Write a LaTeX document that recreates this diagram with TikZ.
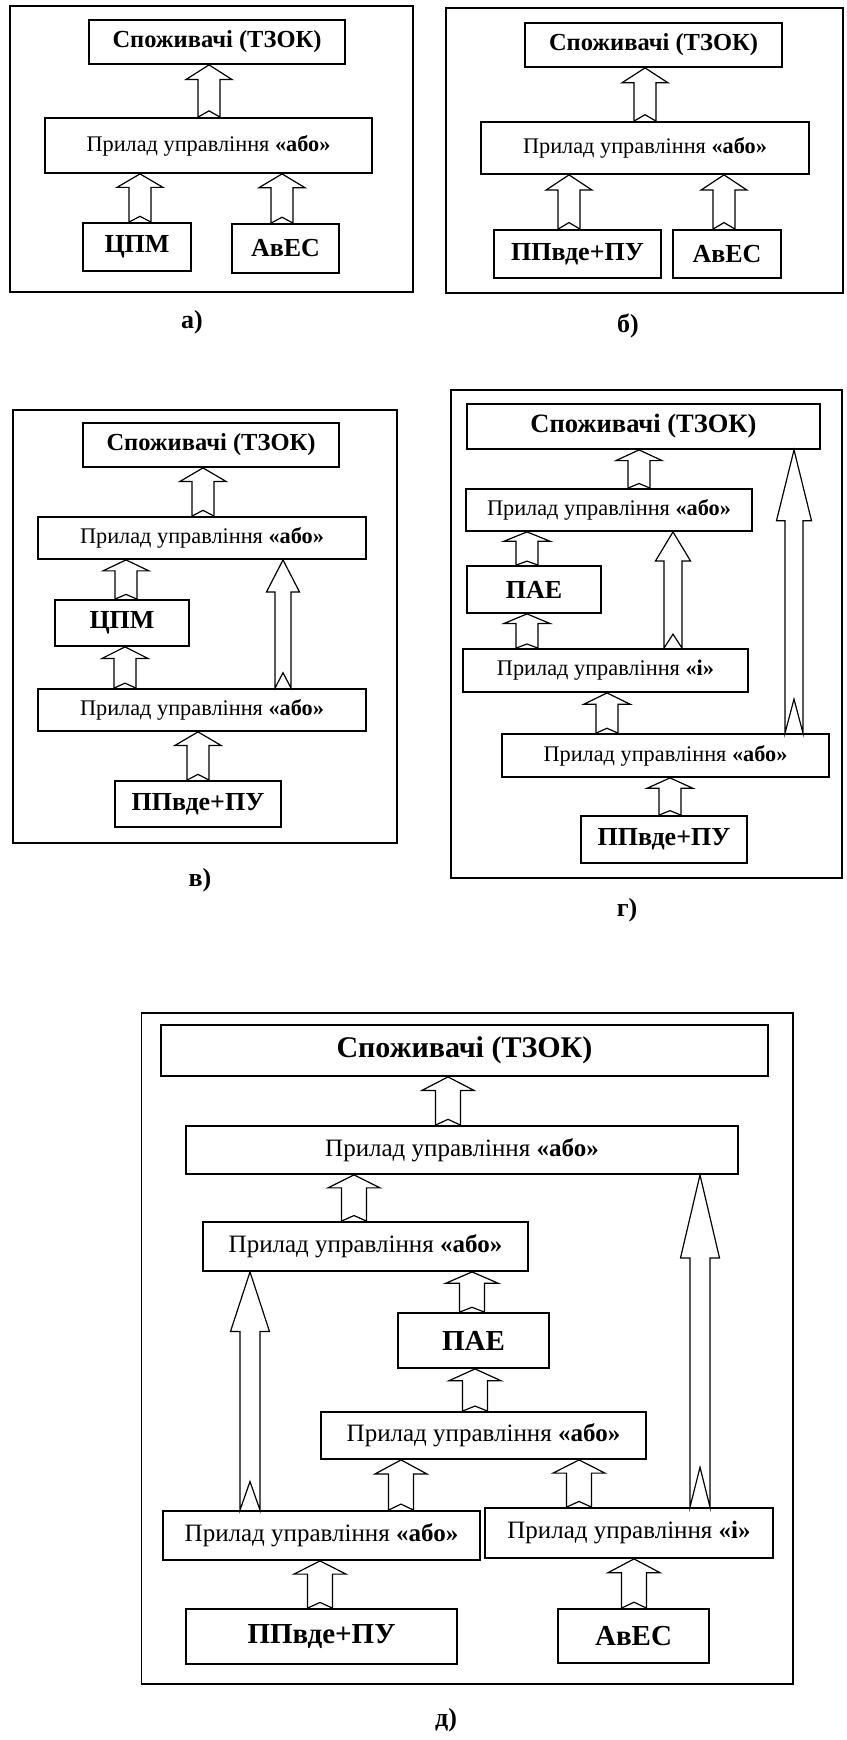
\documentclass[tikz,border=0pt]{standalone}
\usepackage{fontspec}
\IfFontExistsTF{Liberation Serif Bold}
  {\setmainfont{Liberation Serif}[BoldFont={Liberation Serif Bold}]}
  {\setmainfont{Liberation Serif}[BoldFeatures={FakeBold=2}]}
\usetikzlibrary{calc}

% text settings
\newcommand{\cfont}{\fontsize{24.5}{28}\selectfont\bfseries}
\newcommand{\gcfont}{\fontsize{26.5}{30}\selectfont\bfseries}
\newcommand{\pfont}{\fontsize{22.3}{26}\selectfont}
\newcommand{\tfont}{\fontsize{26}{30}\selectfont\bfseries}
\newcommand{\lfont}{\fontsize{26}{30}\selectfont\bfseries}
\newcommand{\dcfont}{\fontsize{30}{34}\selectfont\bfseries}
\newcommand{\dpfont}{\fontsize{25}{29}\selectfont}
\newcommand{\dtfont}{\fontsize{29}{33}\selectfont\bfseries}
\newcommand{\pryl}[1]{Прилад управління \textbf{«#1»}}

\tikzset{
  box/.style 2 args={draw, line width=1.8pt, fill=white, inner sep=0pt,
    align=center, minimum width=#1pt, minimum height=#2pt},
  frame/.style={draw, line width=1.8pt},
  blockarrow/.style={draw, line width=1.2pt, fill=white, line join=miter},
  lbl/.style={inner sep=0pt, font=\lfont},
}

% hollow block arrow pointing up, from the top of #2 to the bottom of #3,
% on the vertical line x=#1; #4 shaft half width, #5 head half width,
% #6 head length as a share of the whole length
\newcommand{\blockup}[6]{%
  \draw[blockarrow] let \p1=(#2.north), \p2=(#3.south),
    \n1={\y2-\y1}, \n2={#6*\n1}, \n3={0.12*\n1} in
    (#1pt-#4pt,\y1) -- (#1pt-#4pt,\y2-\n2) -- (#1pt-#5pt,\y2-\n2) -- (#1pt,\y2)
    -- (#1pt+#5pt,\y2-\n2) -- (#1pt+#4pt,\y2-\n2) -- (#1pt+#4pt,\y1)
    -- (#1pt,\y1+\n3) -- cycle;}
\newcommand{\sarr}[3]{\blockup{#1}{#2}{#3}{11}{23}{0.28}}
\newcommand{\varr}[3]{\blockup{#1}{#2}{#3}{8}{16.5}{0.25}}
\newcommand{\garr}[3]{\blockup{#1}{#2}{#3}{9}{17.5}{0.25}}
\newcommand{\dsarr}[3]{\blockup{#1}{#2}{#3}{12.5}{26}{0.28}}
\newcommand{\dlarr}[3]{\blockup{#1}{#2}{#3}{10}{19.5}{0.25}}

\begin{document}
\begin{tikzpicture}[x=1pt,y=-1pt]
\fill[white] (0,0) rectangle (846,1740);
\useasboundingbox (0,0) rectangle (846,1740);

% ---------- a) ----------
\draw[frame] (10,6) rectangle (413,292);
\node[box={256}{44}] (a_cons) at (217,42) {\cfont Споживачі (ТЗОК)};
\node[box={327}{55}] (a_pr) at (208.5,145.5) {\pfont\pryl{або}};
\node[box={108}{48}] (a_cpm) at (137,247) {\tfont ЦПМ};
\node[box={107}{49}] (a_aves) at (285.5,248.5) {\tfont АвЕС};
\sarr{209}{a_pr}{a_cons}
\sarr{140}{a_cpm}{a_pr}
\sarr{282}{a_aves}{a_pr}
\node[lbl] (lab_a) at (192,322) {а)};

% ---------- b) ----------
\draw[frame] (446,8) rectangle (843,293);
\node[box={257}{44}] (b_cons) at (653.5,45) {\cfont Споживачі (ТЗОК)};
\node[box={328}{52}] (b_pr) at (645,148) {\pfont\pryl{або}};
\node[box={167}{48}] (b_ppv) at (577.5,254) {\tfont ППвде+ПУ};
\node[box={108}{48}] (b_aves) at (727,254) {\tfont АвЕС};
\sarr{645}{b_pr}{b_cons}
\sarr{569}{b_ppv}{b_pr}
\sarr{724}{b_aves}{b_pr}
\node[lbl] (lab_b) at (628,326) {б)};

% ---------- c) ----------
\draw[frame] (13,410) rectangle (397,843);
\node[box={256}{44}] (v_cons) at (211,445) {\cfont Споживачі (ТЗОК)};
\node[box={328}{42}] (v_pr1) at (202,538) {\pfont\pryl{або}};
\node[box={134}{46}] (v_cpm) at (122,623) {\tfont ЦПМ};
\node[box={328}{42}] (v_pr2) at (202,710) {\pfont\pryl{або}};
\node[box={166}{46}] (v_ppv) at (198,804) {\tfont ППвде+ПУ};
\sarr{203}{v_pr1}{v_cons}
\sarr{126}{v_cpm}{v_pr1}
\sarr{125}{v_pr2}{v_cpm}
\varr{283}{v_pr2}{v_pr1}
\sarr{198}{v_ppv}{v_pr2}
\node[lbl] (lab_v) at (200,880) {в)};

% ---------- d) ----------
\draw[frame] (451,390) rectangle (842,878);
\node[box={353}{45}] (g_cons) at (643.5,426.5) {\gcfont Споживачі (ТЗОК)};
\node[box={286}{42}] (g_pr1) at (609,510) {\pfont\pryl{або}};
\node[box={134}{47}] (g_pae) at (534,589.5) {\tfont ПАЕ};
\node[box={285}{43}] (g_pri) at (605.5,670.5) {\pfont\pryl{і}};
\node[box={327}{43}] (g_pr2) at (665.5,755.5) {\pfont\pryl{або}};
\node[box={166}{47}] (g_ppv) at (664,839.5) {\tfont ППвде+ПУ};
\sarr{639}{g_pr1}{g_cons}
\sarr{527}{g_pae}{g_pr1}
\sarr{527}{g_pri}{g_pae}
\garr{673}{g_pri}{g_pr1}
\sarr{607}{g_pr2}{g_pri}
\garr{794}{g_pr2}{g_cons}
\sarr{670}{g_ppv}{g_pr2}
\node[lbl] (lab_g) at (627,910) {г)};

% ---------- e) ----------
\draw[frame] (141.5,1013) rectangle (793,1684);
\node[box={607}{51}] (d_cons) at (464.5,1050.5) {\dcfont Споживачі (ТЗОК)};
\node[box={552}{48}] (d_pr1) at (462,1150) {\dpfont\pryl{або}};
\node[box={325}{49}] (d_pr2) at (365.5,1246.5) {\dpfont\pryl{або}};
\node[box={151}{55}] (d_pae) at (473.5,1340.5) {\dtfont ПАЕ};
\node[box={325}{47}] (d_prm) at (483.5,1435.5) {\dpfont\pryl{або}};
\node[box={317}{49}] (d_prl) at (321.5,1535.5) {\dpfont\pryl{або}};
\node[box={288}{50}] (d_pri) at (629,1533) {\dpfont\pryl{і}};
\node[box={151}{54}] (d_aves) at (633.5,1636) {\dtfont АвЕС};
\node[box={271}{55}] (d_ppv) at (321.5,1636.5) {\dtfont ППвде+ПУ};
\dsarr{448}{d_pr1}{d_cons}
\dsarr{354}{d_pr2}{d_pr1}
\dsarr{472}{d_pae}{d_pr2}
\dsarr{475}{d_prm}{d_pae}
\dsarr{401}{d_prl}{d_prm}
\dsarr{579}{d_pri}{d_prm}
\dsarr{320}{d_ppv}{d_prl}
\dsarr{634}{d_aves}{d_pri}
\dlarr{250}{d_prl}{d_pr2}
\dlarr{700}{d_pri}{d_pr1}
\node[lbl] (lab_d) at (446,1720) {д)};
\end{tikzpicture}
\end{document}
